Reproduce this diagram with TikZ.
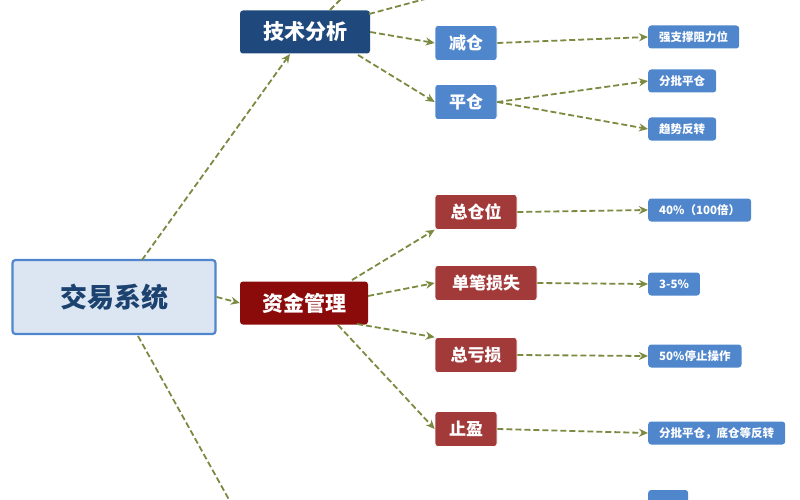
\documentclass[tikz,border=0pt]{standalone}
\usepackage{fontspec}
\newfontfamily\cjk{Noto Sans CJK SC}[BoldFont={Noto Sans CJK SC Black}]
\usetikzlibrary{arrows.meta}
\definecolor{navy}{HTML}{1F497D}
\definecolor{dred}{HTML}{8B0A0A}
\definecolor{mred}{HTML}{A33A3A}
\definecolor{lblue}{HTML}{4F86CC}
\definecolor{olive}{HTML}{7A8A40}
\definecolor{rootfill}{HTML}{DCE6F2}
\begin{document}
\begin{tikzpicture}[x=1pt,y=-1pt,
  base/.style={rounded corners=3pt,text=white,font=\cjk\bfseries,inner sep=0pt,align=center},
  rootbox/.style={base,draw=lblue,line width=2.2pt,fill=rootfill,text=navy!90!black,font=\cjk\bfseries\fontsize{27}{30}\selectfont,minimum width=203pt,minimum height=74pt},
  l2/.style={base,font=\cjk\bfseries\fontsize{21}{24}\selectfont,minimum height=43pt},
  l3/.style={base,font=\cjk\bfseries\fontsize{17}{20}\selectfont,minimum height=35pt,draw=white,line width=0.6pt},
  leaf/.style={base,fill=lblue,font=\cjk\bfseries\fontsize{11.5}{13}\selectfont,minimum height=23pt,inner xsep=11pt},
  con/.style={olive,line width=1.8pt,dash pattern=on 6pt off 3pt,-{Stealth[length=9pt,width=8pt]}},
  con0/.style={olive,line width=1.8pt,dash pattern=on 6pt off 3pt}]
\useasboundingbox (0,0) rectangle (800,500);
\clip (0,0) rectangle (800,500);
\node[rootbox] (root) at (114,297) {交易系统};
\node[l2,fill=navy,minimum width=130pt] (tech) at (305,32) {技术分析};
\node[l2,fill=dred,minimum width=128pt] (money) at (304,303) {资金管理};
\node[l3,fill=lblue,minimum width=62pt] (jc) at (466,43) {减仓};
\node[l3,fill=lblue,minimum width=62pt] (pc) at (466,102) {平仓};
\node[l3,fill=mred,minimum width=82pt] (zcw) at (476,212) {总仓位};
\node[l3,fill=mred,minimum width=102pt] (dbss) at (486,283) {单笔损失};
\node[l3,fill=mred,minimum width=82pt] (zks) at (476,355) {总亏损};
\node[l3,fill=mred,minimum width=62pt] (zy) at (466,429) {止盈};
\node[leaf,anchor=west] (a1) at (648,37) {强支撑阻力位};
\node[leaf,anchor=west] (a2) at (648,81) {分批平仓};
\node[leaf,anchor=west] (a3) at (648,129) {趋势反转};
\node[leaf,anchor=west] (b1) at (648,210) {40\%（100倍）};
\node[leaf,anchor=west] (b2) at (648,284) {3-5\%};
\node[leaf,anchor=west] (b3) at (648,356) {50\%停止操作};
\node[leaf,anchor=west] (b4) at (648,433) {分批平仓，底仓等反转};
\node[leaf,anchor=west,minimum width=40pt,minimum height=30pt] (c1) at (648,505) {};
\coordinate (t1) at (345,-5);
\coordinate (t2) at (440,-5);
\coordinate (r1) at (232,505);
\coordinate (s1) at (142,260);
\coordinate (s2) at (138,336);
\draw[con] (s1) -- (290,54);
\draw[con0] (330,10) -- (t1);
\draw[con0] (369,14) -- (t2);
\draw[con] (tech.east) -- (jc.west);
\draw[con] (358,55) -- (pc.west);
\draw[con0] (s2) -- (r1);
\draw[con] (root.east) -- (money.west);
\draw[con] (352,280) -- (zcw.south west);
\draw[con] (368,296) -- (dbss.west);
\draw[con] (357,324) -- (zks.north west);
\draw[con] (338,325) -- (zy.west);
\draw[con] (jc.east) -- (a1.west);
\draw[con] (pc.east) -- (a2.west);
\draw[con] (pc.east) -- (a3.west);
\draw[con] (zcw.east) -- (b1.west);
\draw[con] (dbss.east) -- (b2.west);
\draw[con] (zks.east) -- (b3.west);
\draw[con] (zy.east) -- (b4.west);
\end{tikzpicture}
\end{document}
